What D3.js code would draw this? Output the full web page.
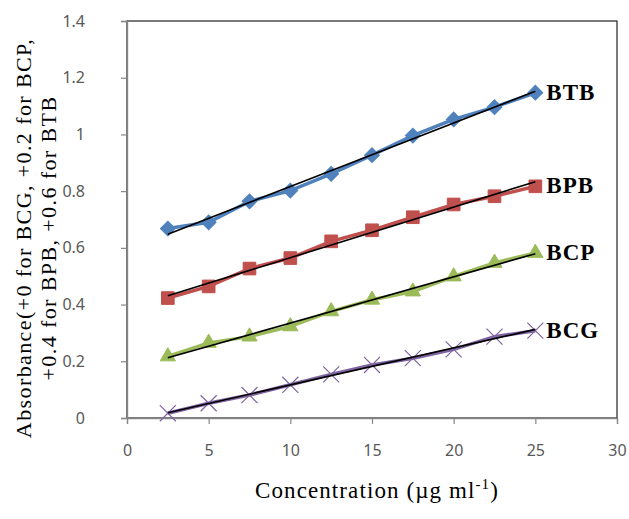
<!DOCTYPE html>
<html>
<head>
<meta charset="utf-8">
<script src="https://cdn.jsdelivr.net/npm/d3@7"></script>
<style>
  body { margin: 0; background: #fff; }
  svg { display: block; }
</style>
</head>
<body>
<div id="chart"></div>
<script>
// concentrations (µg/ml) and absorbance (with offsets)
const conc = [2.5, 5, 7.5, 10, 12.5, 15, 17.5, 20, 22.5, 25];
const btb = [0.668, 0.690, 0.764, 0.802, 0.861, 0.927, 0.996, 1.053, 1.096, 1.147];
const bpb = [0.423, 0.464, 0.527, 0.564, 0.623, 0.662, 0.708, 0.753, 0.782, 0.817];
const bcp = [0.217, 0.265, 0.287, 0.323, 0.376, 0.417, 0.446, 0.499, 0.547, 0.582];
const bcg = [0.017, 0.052, 0.081, 0.117, 0.154, 0.187, 0.211, 0.242, 0.287, 0.308];
const seriesNames = ["BTB", "BPB", "BCP", "BCG"];
const xTicks = [0, 5, 10, 15, 20, 25, 30];
const yTicks = [0, 0.2, 0.4, 0.6, 0.8, 1, 1.2, 1.4];

const width = 629, height = 519;
const margin = {top: 21, right: 12, bottom: 101, left: 127};
const serif = "'Liberation Serif', 'Times New Roman', serif";

const series = [
    {name: seriesNames[0], values: btb, color: "#4f81bd", shape: "diamond"},
    {name: seriesNames[1], values: bpb, color: "#c0504d", shape: "square"},
    {name: seriesNames[2], values: bcp, color: "#9bbb59", shape: "triangle"},
    {name: seriesNames[3], values: bcg, color: "#8064a2", shape: "cross"}
];

const svg = d3.select("#chart").append("svg")
    .attr("width", width)
    .attr("height", height);

const x = d3.scaleLinear().domain([0, 30]).range([margin.left, width - margin.right]);
const y = d3.scaleLinear().domain([0, 1.4]).range([height - margin.bottom, margin.top]);

// plot area frame (top/right darker)
svg.append("rect")
    .attr("x", margin.left).attr("y", margin.top)
    .attr("width", width - margin.left - margin.right)
    .attr("height", height - margin.top - margin.bottom)
    .attr("fill", "none").attr("stroke", "#222").attr("stroke-width", 1.2);

const yAxis = svg.append("g")
    .attr("transform", `translate(${margin.left},0)`)
    .call(d3.axisLeft(y).tickValues(yTicks).tickSize(6).tickPadding(36).tickFormat(d => d3.format("~g")(d)));
const xAxis = svg.append("g")
    .attr("transform", `translate(0,${height - margin.bottom})`)
    .call(d3.axisBottom(x).tickValues(xTicks).tickSize(6).tickPadding(21));

[yAxis, xAxis].forEach(g => {
    g.select(".domain").attr("stroke", "#868686").attr("stroke-width", 1.3);
    g.selectAll(".tick line").attr("stroke", "#868686").attr("stroke-width", 1.2);
    g.selectAll(".tick text")
        .attr("fill", "#595959")
        .attr("font-family", "'Noto Sans', sans-serif")
        .attr("font-size", "16px");
});

const line = d3.line().x(d => x(d[0])).y(d => y(d[1]));

// least-squares linear trendline, as in the spreadsheet
function fit(xs, ys) {
    const mx = d3.mean(xs), my = d3.mean(ys);
    const b = d3.sum(xs, (v, i) => (v - mx) * (ys[i] - my)) / d3.sum(xs, v => (v - mx) * (v - mx));
    return [[xs[0], my + b * (xs[0] - mx)], [xs[xs.length - 1], my + b * (xs[xs.length - 1] - mx)]];
}

const sym = {
    square: d3.symbol().type(d3.symbolSquare).size(160),
    diamond: d3.symbol().type(d3.symbolSquare).size(110),
    triangle: d3.symbol().type(d3.symbolTriangle).size(100),
    cross: d3.symbol().type(d3.symbolTimes).size(170)
};

series.forEach(s => {
    const pts = conc.map((c, i) => [c, s.values[i]]);
    const g = svg.append("g");

    g.append("path").attr("d", line(pts))
        .attr("fill", "none").attr("stroke", s.color).attr("stroke-width", 3.5);

    g.selectAll(".mk").data(pts).join("path")
        .attr("transform", d => `translate(${x(d[0])},${y(d[1])})` + (s.shape === "diamond" ? " rotate(45)" : ""))
        .attr("d", sym[s.shape]())
        .attr("fill", s.shape === "cross" ? "none" : s.color)
        .attr("stroke", s.color)
        .attr("stroke-width", s.shape === "cross" ? 1.2 : 1);

    g.append("path").attr("d", line(fit(conc, s.values)))
        .attr("fill", "none").attr("stroke", "#000").attr("stroke-width", 1.6);

    const last = pts[pts.length - 1];
    g.append("text")
        .attr("x", x(last[0]) + 11)
        .attr("y", y(last[1]) + 7)
        .attr("font-family", serif)
        .attr("font-weight", "bold")
        .attr("font-size", "23px")
        .attr("letter-spacing", "1px")
        .attr("fill", "#000")
        .text(s.name);
});

// axis titles
const xt = svg.append("text")
    .attr("x", (margin.left + width - margin.right) / 2 + 5)
    .attr("y", 498)
    .attr("text-anchor", "middle")
    .attr("font-family", serif)
    .attr("font-size", "23px")
    .attr("letter-spacing", "1.1px")
    .attr("fill", "#000");
xt.append("tspan").text("Concentration (\u00b5g ml");
xt.append("tspan").attr("dy", -9).attr("font-size", "15px").text("-1");
xt.append("tspan").attr("dy", 9).text(")");

const yt = svg.append("text")
    .attr("transform", "translate(31,238) rotate(-90)")
    .attr("text-anchor", "middle")
    .attr("font-family", serif)
    .attr("font-size", "22px")
    .attr("letter-spacing", "1.4px")
    .attr("fill", "#000");
yt.append("tspan").attr("x", 0).attr("y", 0).text("Absorbance(+0 for BCG, +0.2 for BCP,");
yt.append("tspan").attr("x", 0).attr("y", 25).text("+0.4 for BPB, +0.6 for BTB");
</script>
</body>
</html>
